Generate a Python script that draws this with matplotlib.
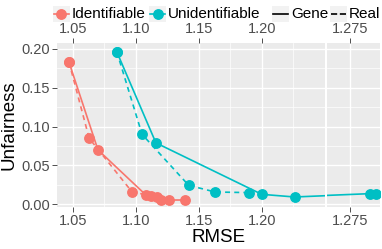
import matplotlib
matplotlib.use("Agg")
import matplotlib.pyplot as plt
from matplotlib.lines import Line2D
from matplotlib.patches import Rectangle
from matplotlib.ticker import MultipleLocator, FixedLocator

plt.rcParams['font.family'] = ['Liberation Sans', 'DejaVu Sans']

# Identifiable (red), Unidentifiable (cyan); Gene = solid, Real = dashed
id_gene_x = [1.047, 1.070, 1.108, 1.112, 1.126, 1.139]
id_gene_y = [0.183, 0.070, 0.012, 0.0106, 0.0055, 0.0055]
id_real_x = [1.047, 1.063, 1.097, 1.117, 1.120]
id_real_y = [0.183, 0.085, 0.016, 0.0094, 0.0051]

un_gene_x = [1.085, 1.116, 1.200, 1.226, 1.291, 1.295]
un_gene_y = [0.196, 0.079, 0.0128, 0.0094, 0.0137, 0.0128]
un_real_x = [1.085, 1.105, 1.142, 1.163, 1.190]
un_real_y = [0.196, 0.090, 0.0244, 0.0158, 0.015]

left_ticks = [1.05, 1.10, 1.15, 1.20]
right_ticks = [1.275]
y_ticks = [0.00, 0.05, 0.10, 0.15, 0.20]

RED = '#F8766D'
CYAN = '#00BFC4'
W, H = 382, 249

fig = plt.figure(figsize=(W / 100, H / 100), dpi=100)
axL = fig.add_axes([57 / W, 1 - 207 / H, (325 - 57) / W, (207 - 43) / H])
axR = fig.add_axes([327 / W, 1 - 207 / H, (380 - 327) / W, (207 - 43) / H])

series = [
    (id_gene_x, id_gene_y, RED, '-'),
    (id_real_x, id_real_y, RED, '--'),
    (un_gene_x, un_gene_y, CYAN, '-'),
    (un_real_x, un_real_y, CYAN, '--'),
]

for ax in (axL, axR):
    ax.set_facecolor('#EBEBEB')
    for s in ax.spines.values():
        s.set_visible(False)
    for x, y, c, ls in series:
        ax.plot(x, y, color=c, ls=ls, lw=1.2, marker='o', ms=6.8,
                dashes=(3, 2.5) if ls == '--' else (None, None))
    ax.set_ylim(-0.0035, 0.2075)
    ax.yaxis.set_major_locator(FixedLocator(y_ticks))
    ax.yaxis.set_minor_locator(MultipleLocator(0.025))
    ax.grid(which='major', color='white', lw=1.0)
    ax.grid(which='minor', color='white', lw=0.5)
    ax.set_axisbelow(True)
    ax.tick_params(which='minor', length=0)
    ax.tick_params(which='major', colors='#333333', labelcolor='#4D4D4D',
                   labelsize=10.5, length=3.5, width=0.6, pad=1.5)

axL.set_xlim(1.0375, 1.2502)
axL.xaxis.set_major_locator(FixedLocator(left_ticks))
axL.xaxis.set_minor_locator(FixedLocator([1.075, 1.125, 1.175, 1.225]))
axL.set_xticklabels(['%.2f' % t for t in left_ticks])
axL.set_yticklabels(['%.2f' % t for t in y_ticks])

axR.set_xlim(1.2567, 1.2985)
axR.xaxis.set_major_locator(FixedLocator(right_ticks))
axR.xaxis.set_minor_locator(FixedLocator([]))
axR.set_xticklabels(['1.275'])
axR.tick_params(axis='y', left=False, labelleft=False)

for ax in (axL, axR):
    ax.tick_params(axis='x', top=True, labeltop=True)

axL.set_ylabel('Unfairness', fontsize=13.5, labelpad=3)
fig.text((57 + 380) / 2 / W, 1 - 237 / H, 'RMSE', fontsize=13.5,
         ha='center', va='center')

# legend at the top
ly = 1 - 14 / H
keys = [
    (53, RED, '-', 'o', 'Identifiable'),
    (149, CYAN, '-', 'o', 'Unidentifiable'),
    (272, 'black', '-', None, 'Gene'),
    (330, 'black', '--', None, 'Real'),
]
for px, c, ls, mk, label in keys:
    fig.patches.append(Rectangle((px / W, 1 - 22 / H), 17 / W, 16 / H,
                                 transform=fig.transFigure,
                                 facecolor='#F2F2F2', edgecolor='none'))
    fig.lines.append(Line2D([(px + 1) / W, (px + 16) / W], [ly, ly],
                            transform=fig.transFigure, color=c, ls=ls,
                            lw=1.2))
    if mk:
        fig.lines.append(Line2D([(px + 8.5) / W], [ly], transform=fig.transFigure,
                                color=c, marker=mk, ms=6.8, ls='none'))
    fig.text((px + 19) / W, ly, label, fontsize=11, ha='left', va='center')

fig.savefig('out.png', dpi=100)
